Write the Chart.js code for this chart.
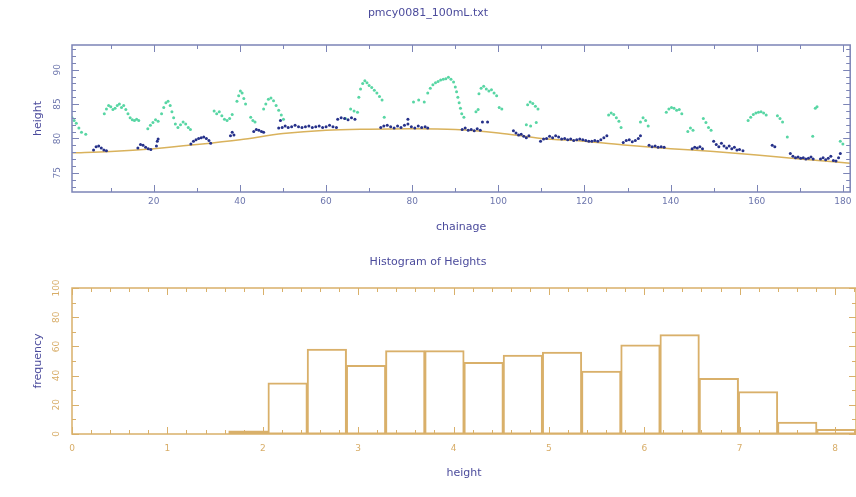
<!DOCTYPE html>
<html>
<head>
<meta charset="utf-8">
<script src="https://cdn.jsdelivr.net/npm/chart.js@4.4.1/dist/chart.umd.min.js"></script>
<style>
  html, body { margin: 0; padding: 0; background: #fff; }
  #wrap { position: relative; width: 856px; height: 497px; }
  #profile { position: absolute; left: 0; top: 0; }
  #hist { position: absolute; left: 0; top: 240px; }
</style>
</head>
<body>
<div id="wrap">
  <canvas id="profile" width="856" height="240"></canvas>
  <canvas id="hist" width="856" height="257"></canvas>
</div>
<script>
// ground profile (smooth line)
const groundX = [1, 10, 20, 30, 40, 50, 60, 70, 80, 90, 100, 110, 120, 130, 140, 150, 160, 170, 181.7];
const groundY = [77.9, 78.1, 78.5, 79.1, 79.8, 80.7, 81.2, 81.35, 81.4, 81.3, 80.8, 80.0, 79.6, 79.0, 78.5, 78.1, 77.6, 77.0, 76.4];

// navy points [chainage, height]
const bluePts = [
  [6.0,78.3],[6.6,78.8],[7.2,78.9],[7.8,78.6],[8.4,78.3],[9.0,78.2],
  [16.3,78.6],[16.9,79.1],[17.5,79.0],[18.1,78.7],[18.7,78.5],[19.3,78.4],
  [20.6,78.9],[20.8,79.6],[21.0,79.9],
  [28.6,79.2],[29.2,79.6],[29.8,79.8],[30.4,80.0],[31.0,80.1],[31.6,80.2],[32.2,80.0],[32.8,79.7],[33.2,79.3],
  [37.8,80.4],[38.2,80.9],[38.6,80.5],
  [43.2,81.0],[43.8,81.3],[44.4,81.2],[45.0,81.0],[45.5,80.9],
  [49.4,82.6],[49.0,81.5],[49.8,81.6],[50.5,81.8],[51.2,81.6],[52.0,81.7],[52.8,81.9],[53.6,81.7],[54.4,81.6],
  [55.2,81.7],[56.0,81.8],[56.8,81.6],[57.6,81.7],[58.4,81.8],[59.2,81.6],[60.0,81.7],[60.8,81.9],[61.6,81.7],[62.4,81.6],
  [62.7,82.8],[63.5,83.0],[64.3,82.9],[65.1,82.7],[65.9,83.0],[66.7,82.8],
  [72.7,81.6],[73.4,81.8],[74.2,81.9],[75.0,81.7],[75.8,81.5],[76.6,81.8],[77.4,81.6],[78.2,81.9],[79.0,82.1],
  [79.8,81.7],[80.6,81.5],[81.4,81.8],[82.2,81.6],[83.0,81.7],[83.6,81.5],[79.0,82.8],
  [91.6,81.3],[92.3,81.5],[93.0,81.2],[93.7,81.3],[94.4,81.1],[95.1,81.4],[95.8,81.2],
  [96.3,82.4],[97.5,82.4],
  [103.5,81.1],[104.1,80.8],[104.7,80.5],[105.3,80.6],[105.9,80.3],[106.5,80.1],[107.1,80.4],
  [109.8,79.6],[110.5,79.9],[111.2,80.0],[111.9,80.3],[112.6,80.1],[113.3,80.4],[114.0,80.2],[114.7,79.9],
  [115.4,80.0],[116.1,79.8],[116.8,79.9],[117.5,79.7],[118.2,79.8],[118.9,79.9],[119.6,79.8],[120.3,79.7],
  [121.0,79.6],[121.7,79.6],[122.4,79.7],[123.1,79.6],[123.8,79.8],[124.5,80.1],[125.2,80.4],
  [129.0,79.4],[129.7,79.7],[130.4,79.8],[131.1,79.5],[131.8,79.7],[132.5,80.0],[133.0,80.4],
  [135.0,79.0],[135.7,78.8],[136.4,78.9],[137.1,78.7],[137.8,78.8],[138.5,78.7],
  [145.0,78.5],[145.6,78.7],[146.2,78.6],[146.8,78.8],[147.4,78.5],
  [150.0,79.6],[150.6,79.1],[151.2,78.8],[151.8,79.3],[152.4,78.9],[153.0,78.6],[153.6,78.9],[154.2,78.5],
  [154.8,78.7],[155.4,78.3],[156.0,78.4],[156.8,78.2],
  [163.6,79.0],[164.2,78.8],
  [167.8,77.8],[168.4,77.4],[169.0,77.2],[169.6,77.3],[170.2,77.1],[170.8,77.2],[171.4,77.0],[172.0,77.1],[172.6,77.3],[173.1,77.0],
  [174.8,77.0],[175.4,77.2],[176.0,76.9],[176.6,77.1],[177.2,77.4],[177.8,76.8],[178.4,76.7],[179.0,77.2],[179.4,77.8]
];

// green points [chainage, height]
const greenPts = [
  [1.0,83.0],[1.5,82.6],[2.0,82.2],[2.6,81.5],[3.2,80.9],[4.2,80.6],
  [8.5,83.6],[9.0,84.3],[9.5,84.8],[10.0,84.6],[10.5,84.2],[11.0,84.4],[11.5,84.8],[12.0,85.0],[12.5,84.5],
  [13.0,84.8],[13.5,84.2],[14.0,83.6],[14.5,83.0],[15.0,82.7],[15.5,82.6],[16.0,82.8],[16.5,82.6],
  [18.6,81.4],[19.2,81.9],[19.8,82.3],[20.4,82.7],[21.0,82.5],
  [21.8,83.6],[22.3,84.5],[22.8,85.2],[23.3,85.4],[23.8,84.8],[24.2,83.9],[24.6,83.0],
  [25.0,82.1],[25.6,81.6],[26.2,82.0],[26.8,82.4],[27.4,82.1],[28.0,81.6],[28.5,81.3],
  [34.0,84.0],[34.6,83.6],[35.2,83.9],[35.8,83.3],[36.4,82.8],[37.0,82.6],[37.6,82.9],[38.2,83.5],
  [39.3,85.4],[39.7,86.2],[40.1,86.9],[40.5,86.6],[40.9,85.8],[41.3,85.0],
  [42.5,83.1],[43.0,82.6],[43.5,82.4],
  [45.5,84.3],[46.0,85.0],[46.6,85.7],[47.2,85.9],[47.8,85.5],[48.4,84.8],[49.0,84.1],[49.6,83.4],[50.1,82.8],
  [64.5,82.9],[65.7,84.3],[66.5,84.0],[67.3,83.8],[67.6,86.0],[68.0,87.2],[68.5,88.0],[69.0,88.4],[69.5,88.1],
  [70.0,87.7],[70.6,87.4],[71.2,87.0],[71.8,86.6],[72.4,86.1],[73.0,85.6],[73.5,83.1],
  [80.3,85.3],[81.5,85.6],[82.8,85.3],[83.6,86.6],[84.2,87.3],[84.8,87.8],[85.4,88.1],[86.0,88.3],[86.6,88.5],
  [87.2,88.6],[87.8,88.7],[88.4,88.9],[89.0,88.6],[89.6,88.2],[90.0,87.5],[90.3,86.8],[90.6,86.0],[90.9,85.2],
  [91.2,84.4],[91.5,83.6],[92.0,83.1],
  [94.8,83.9],[95.3,84.2],[95.5,86.5],[96.0,87.3],[96.6,87.6],[97.2,87.2],[97.8,86.9],[98.4,87.1],[99.0,86.6],
  [99.6,86.2],[100.2,84.5],[100.8,84.3],
  [106.5,82.0],[106.8,84.9],[107.4,85.3],[107.5,81.8],[108.0,85.1],[108.6,84.7],[108.8,82.3],[109.2,84.3],
  [125.6,83.4],[126.2,83.7],[126.8,83.5],[127.4,83.0],[128.0,82.5],[128.5,81.6],
  [133.0,82.4],[133.6,83.0],[134.2,82.6],[134.8,81.8],
  [139.0,83.8],[139.6,84.3],[140.2,84.5],[140.8,84.4],[141.4,84.1],[142.0,84.2],[142.6,83.6],
  [144.0,81.0],[144.6,81.5],[145.2,81.2],
  [147.6,82.9],[148.2,82.3],[148.8,81.6],[149.4,81.2],
  [158.0,82.6],[158.6,83.1],[159.2,83.5],[159.8,83.7],[160.4,83.8],[161.0,83.9],[161.6,83.7],[162.2,83.4],
  [164.8,83.3],[165.4,82.9],[166.0,82.4],[167.1,80.2],
  [173.0,80.3],[173.6,84.4],[174.0,84.6],[179.4,79.6],[180.0,79.2]
];

// histogram bins (mid points, width 0.411) and counts
const binMid = [0.206, 0.617, 1.028, 1.439, 1.850, 2.261, 2.672, 3.083, 3.494, 3.905,
                4.316, 4.727, 5.138, 5.549, 5.960, 6.371, 6.782, 7.193, 7.604, 8.015];
const binCount = [0, 0, 0, 0, 2, 35, 58, 47, 57, 57, 49, 54, 56, 43, 61, 68, 38, 29, 8, 3];

const FONT = 'DejaVu Sans';
const titleBlue = '#4b4b9c';
const histOrange = '#d9b06a';

// box frame with inward ticks on all four sides
const framePlugin = {
    id: 'frame',
    afterDatasetsDraw(chart, args, opts) {
        const { ctx, chartArea: a } = chart;
        const x = chart.scales.x, y = chart.scales.y;
        ctx.save();
        ctx.strokeStyle = opts.color;
        ctx.lineWidth = 1.5;
        ctx.strokeRect(a.left, a.top, a.right - a.left, a.bottom - a.top);
        ctx.lineWidth = 1;
        ctx.beginPath();
        const isMajor = (v, step) => Math.abs(v / step - Math.round(v / step)) < 1e-6;
        for (let i = Math.ceil(x.min / opts.xMinor - 1e-9); i * opts.xMinor <= x.max + 1e-9; i++) {
            const v = i * opts.xMinor;
            const len = isMajor(v, opts.xMajor) ? 7 : 4;
            const px = Math.round(x.getPixelForValue(v)) + 0.5;
            ctx.moveTo(px, a.bottom); ctx.lineTo(px, a.bottom - len);
            ctx.moveTo(px, a.top); ctx.lineTo(px, a.top + len);
        }
        for (let i = Math.ceil(y.min / opts.yMinor - 1e-9); i * opts.yMinor <= y.max + 1e-9; i++) {
            const v = i * opts.yMinor;
            const len = isMajor(v, opts.yMajor) ? 7 : 4;
            const py = Math.round(y.getPixelForValue(v)) + 0.5;
            ctx.moveTo(a.left, py); ctx.lineTo(a.left + len, py);
            ctx.moveTo(a.right, py); ctx.lineTo(a.right - len, py);
        }
        ctx.stroke();
        ctx.restore();
    }
};

function axisTitle(text, pad) {
    return { display: true, text: text, color: titleBlue, font: { family: FONT, size: 11 }, padding: pad };
}

// ---- top: height profile along chainage ----
new Chart(document.getElementById('profile'), {
    type: 'scatter',
    data: {
        datasets: [
            {
                data: greenPts.map(p => ({ x: p[0], y: p[1] })),
                pointRadius: 1.5, pointBorderWidth: 0,
                pointBackgroundColor: '#58d6a4', order: 2
            },
            {
                data: bluePts.map(p => ({ x: p[0], y: p[1] })),
                pointRadius: 1.5, pointBorderWidth: 0,
                pointBackgroundColor: '#26318a', order: 1
            },
            {
                data: groundX.map((v, i) => ({ x: v, y: groundY[i] })),
                showLine: true, pointRadius: 0, borderColor: '#d9b25c', borderWidth: 1.5,
                cubicInterpolationMode: 'monotone', order: 3
            }
        ]
    },
    options: {
        responsive: false,
        animation: false,
        events: [],
        layout: { padding: 0 },
        plugins: {
            legend: { display: false },
            tooltip: { enabled: false },
            title: {
                display: true, text: 'pmcy0081_100mL.txt', color: titleBlue,
                font: { family: FONT, size: 11, weight: 'normal' },
                padding: { top: 6.4, bottom: 25.4 }
            },
            frame: { color: '#7c84b6', xMajor: 20, xMinor: 10, yMajor: 5, yMinor: 1 }
        },
        scales: {
            x: {
                type: 'linear', min: 1, max: 181.7,
                grid: { display: false, drawTicks: false }, border: { display: false },
                ticks: { stepSize: 20, includeBounds: false, color: '#6d76ad', padding: 4.5,
                         font: { family: FONT, size: 9 }, maxRotation: 0 },
                title: axisTitle('chainage', { top: 0, bottom: 6.4 }),
                afterFit: s => { s.height = 48; }
            },
            y: {
                type: 'linear', min: 72.2, max: 93.6,
                grid: { display: false, drawTicks: false }, border: { display: false },
                ticks: { stepSize: 5, includeBounds: false, color: '#6d76ad', padding: 9,
                         crossAlign: 'center', minRotation: 90, maxRotation: 90,
                         font: { family: FONT, size: 9 } },
                title: axisTitle('height', { top: 31.4, bottom: 0 }),
                afterFit: s => { s.width = 72; }
            }
        }
    },
    plugins: [framePlugin]
});

// ---- bottom: histogram of heights ----
new Chart(document.getElementById('hist'), {
    type: 'bar',
    data: {
        datasets: [{
            data: binMid.map((v, i) => ({ x: v, y: binCount[i] })),
            backgroundColor: 'rgba(0,0,0,0)',
            borderColor: histOrange,
            borderWidth: 1,
            borderSkipped: false,
            inflateAmount: 0.5,   // centre the border on the bin edge so neighbours share one line
            barPercentage: 1,
            categoryPercentage: 1
        }]
    },
    options: {
        responsive: false,
        animation: false,
        events: [],
        layout: { padding: 0 },
        plugins: {
            legend: { display: false },
            tooltip: { enabled: false },
            title: {
                display: true, text: 'Histogram of Heights', color: titleBlue,
                font: { family: FONT, size: 11, weight: 'normal' },
                padding: { top: 15.4, bottom: 19.4 }
            },
            frame: { color: histOrange, xMajor: 1, xMinor: 0.2, yMajor: 20, yMinor: 10 }
        },
        scales: {
            x: {
                type: 'linear', min: 0, max: 8.22, offset: false,
                grid: { display: false, drawTicks: false }, border: { display: false },
                ticks: { stepSize: 1, includeBounds: false, color: '#d8ad68', padding: 9,
                         font: { family: FONT, size: 9 }, maxRotation: 0 },
                title: axisTitle('height', { top: 0, bottom: 17.4 }),
                afterFit: s => { s.height = 63; }
            },
            y: {
                type: 'linear', min: 0, max: 100,
                grid: { display: false, drawTicks: false }, border: { display: false },
                ticks: { stepSize: 20, color: '#d8ad68', padding: 6.5,
                         crossAlign: 'center', minRotation: 90, maxRotation: 90,
                         font: { family: FONT, size: 9 } },
                title: axisTitle('frequency', { top: 31.4, bottom: 0 }),
                afterFit: s => { s.width = 72; }
            }
        }
    },
    plugins: [framePlugin]
});
</script>
</body>
</html>
